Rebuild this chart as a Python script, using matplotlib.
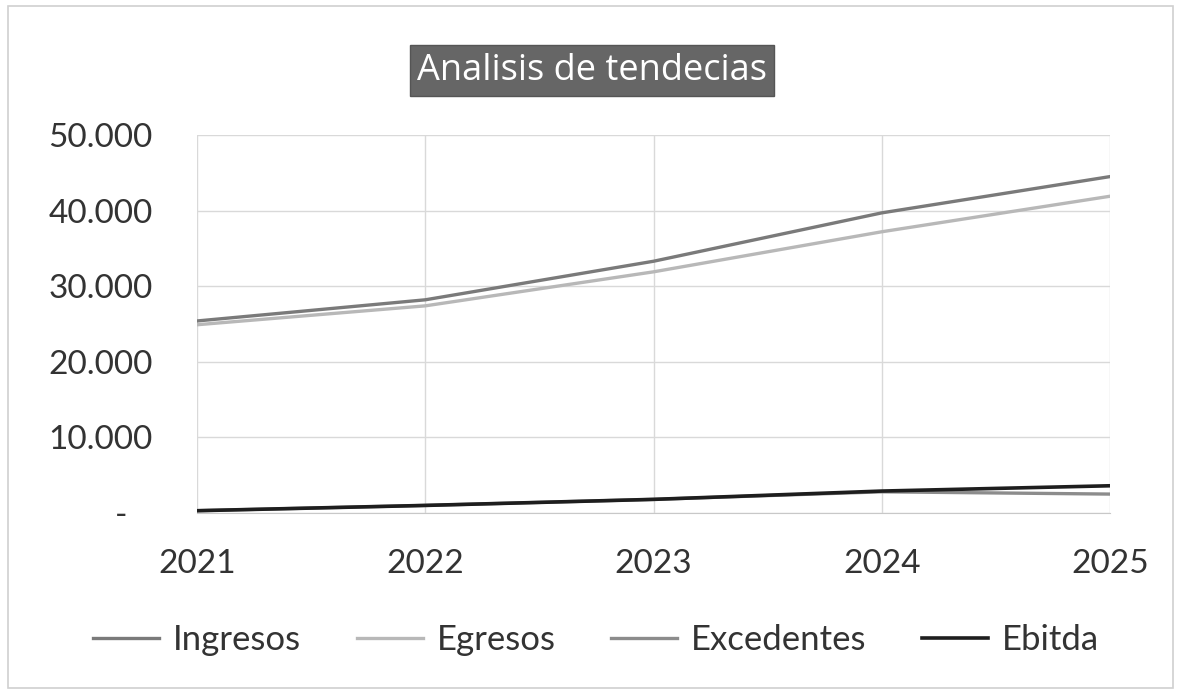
import matplotlib.pyplot as plt
from matplotlib.patches import Rectangle
from matplotlib.ticker import FuncFormatter

years = [2021, 2022, 2023, 2024, 2025]
ingresos = [25400, 28200, 33300, 39700, 44500]
egresos = [24900, 27400, 31900, 37200, 41900]
excedentes = [300, 1000, 1800, 2800, 2500]
ebitda = [300, 1000, 1800, 2900, 3600]

plt.rcParams['font.family'] = ['Lato', 'DejaVu Sans']

fig = plt.figure(figsize=(11.81, 6.92), dpi=100)
fig.patches.append(Rectangle((0.007, 0.006), 0.986, 0.986, transform=fig.transFigure,
                             fill=False, edgecolor='#d0d0d0', linewidth=1.2))

ax = fig.add_axes([0.1668, 0.2587, 0.7731, 0.5462])
ax.plot(years, ingresos, color='#7a7a7a', lw=2.4, label='Ingresos')
ax.plot(years, egresos, color='#b8b8b8', lw=2.4, label='Egresos')
ax.plot(years, excedentes, color='#8c8c8c', lw=2.4, label='Excedentes')
ax.plot(years, ebitda, color='#1e1e1e', lw=2.6, label='Ebitda')

ax.set_xlim(2021, 2025)
ax.set_ylim(0, 50000)
ax.set_xticks(years)
ax.set_yticks(range(0, 50001, 10000))

def fmt(v, pos):
    if v == 0:
        return '-   '
    return f'{int(v):,}'.replace(',', '.')

ax.yaxis.set_major_formatter(FuncFormatter(fmt))
ax.grid(True, color='#d9d9d9', lw=1.0)
for s in ['top', 'right', 'left']:
    ax.spines[s].set_visible(False)
ax.spines['bottom'].set_color('#c8c8c8')
ax.tick_params(length=0, labelsize=24, colors='#333333')
ax.tick_params(axis='x', pad=26)
ax.tick_params(axis='y', pad=32)

fig.text(0.5015, 0.898, 'Analisis de tendecias', ha='center', va='center',
         fontsize=26, color='white', family=['Open Sans', 'DejaVu Sans'],
         bbox=dict(boxstyle='square,pad=0.2', facecolor='#666666', edgecolor='#555555'))

fig.legend(loc='center', bbox_to_anchor=(0.505, 0.075), ncol=4, frameon=False,
           fontsize=25, handlelength=1.9, handletextpad=0.4, columnspacing=1.6,
           labelcolor='#333333')

fig.savefig('out.png', dpi=100)
